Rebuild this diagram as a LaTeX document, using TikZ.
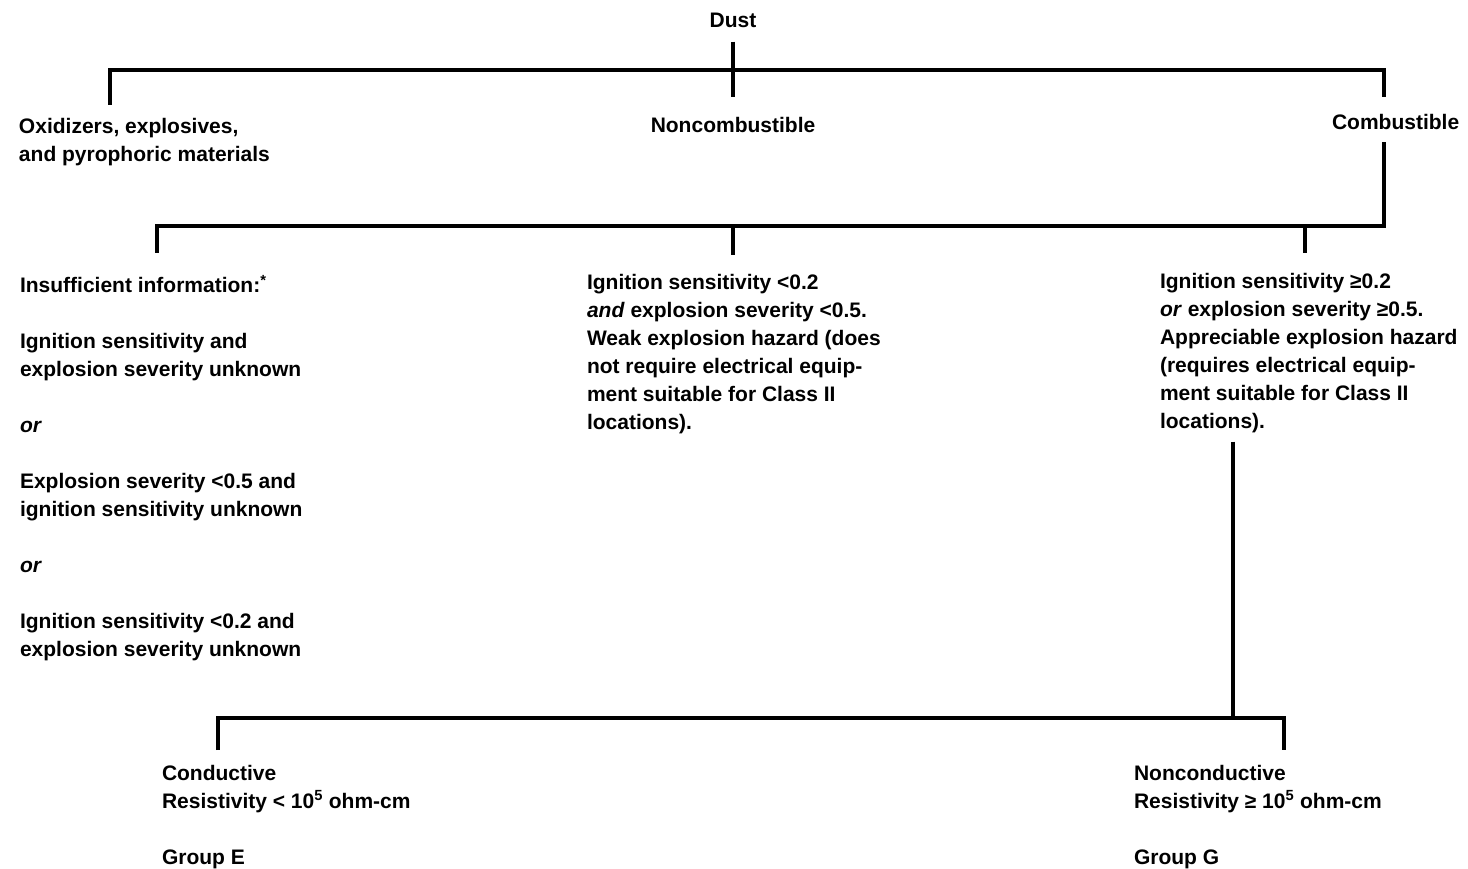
\documentclass[tikz,border=0pt]{standalone}
\usepackage{fontspec}
\setmainfont{Liberation Sans}
\usetikzlibrary{positioning}
\tikzset{every node/.style={inner sep=0pt, font=\bfseries\fontsize{21}{28}\selectfont}}

\begin{document}
\begin{tikzpicture}[x=1pt, y=-1pt, line width=4pt,
    txt/.style={anchor=north west, align=left}]
    \useasboundingbox (0,0) rectangle (1468,869);

    % Labels
    \node (dust) [anchor=north] at (733,11) {Dust};
    \node[txt] (oxid) at (17,116) {Oxidizers, explosives,\\and pyrophoric materials};
    \node (noncomb) [anchor=north] at (733,115) {Noncombustible};
    \node[txt] (comb) at (1330,112) {Combustible};

    \node[txt] (insuff) at (18,273) {Insufficient information:\textsuperscript{*}\\[28pt]
        Ignition sensitivity and\\explosion severity unknown\\[28pt]
        \textit{or}\\[28pt]
        Explosion severity <0.5 and\\ignition sensitivity unknown\\[28pt]
        \textit{or}\\[28pt]
        Ignition sensitivity <0.2 and\\explosion severity unknown};
    \node[txt] (weak) at (585,272) {Ignition sensitivity <0.2\\
        \textit{and} explosion severity <0.5.\\Weak explosion hazard (does\\
        not require electrical equip-\\ment suitable for Class II\\locations).};
    \node[txt] (apprec) at (1158,271) {Ignition sensitivity ≥0.2\\
        \textit{or} explosion severity ≥0.5.\\Appreciable explosion hazard\\
        (requires electrical equip-\\ment suitable for Class II\\locations).};

    \node[txt] (cond) at (160,763) {Conductive\\Resistivity < 10\textsuperscript{5} ohm-cm\\[28pt]Group E};
    \node[txt] (noncond) at (1132,763) {Nonconductive\\Resistivity ≥ 10\textsuperscript{5} ohm-cm\\[28pt]Group G};

    % Branches
    \coordinate (b1w) at (110,70);
    \coordinate (b1e) at (1384,70);
    \coordinate (b2w) at (157,226);
    \coordinate (b2e) at (1384,226);
    \coordinate (b2j) at (1305,226);
    \coordinate (b3w) at (218,718);
    \coordinate (b3e) at (1284,718);
    \coordinate (b3j) at (1233,718);

    \draw[shorten <=12pt, shorten >=18pt] (dust) -- (noncomb);
    \draw[shorten <=11pt, shorten >=15pt] (b1w |- oxid.north) -- (b1w) -- (b1e) -- (b1e |- comb.north);

    \draw[shorten <=20pt, shorten >=11pt] (b2w |- insuff.north) -- (b2w) -- (b2e) -- (b2e |- comb.south);
    \draw[shorten >=17pt] (b2w -| noncomb) -- (noncomb |- weak.north);
    \draw[shorten >=18pt] (b2j) -- (b2j |- apprec.north);

    \draw[shorten <=7pt] (b3j |- apprec.south) -- (b3j);
    \draw[shorten <=13pt, shorten >=13pt] (b3w |- cond.north) -- (b3w) -- (b3e) -- (b3e |- noncond.north);

\end{tikzpicture}
\end{document}
